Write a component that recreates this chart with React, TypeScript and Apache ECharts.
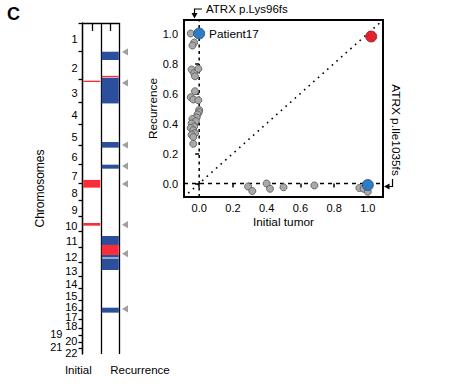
import React, { useEffect, useRef } from "react";
import * as echarts from "echarts";

const FONT = "'Liberation Sans', Arial, Helvetica, sans-serif";

// ---- Chromosome panel data ----
const chromosomes = ["1", "2", "3", "4", "5", "6", "7", "8", "9", "10", "11", "12", "13", "14", "15", "16", "17", "18", "19", "20", "21", "22"];
const chromLengthsMb = [249.3, 243.2, 198.0, 191.2, 180.9, 171.1, 159.1, 146.4, 141.2, 135.5, 135.0, 133.9, 115.2, 107.3, 102.5, 90.4, 81.2, 78.1, 59.1, 63.0, 48.1, 51.3];
const shiftedLabels = ["19", "21"];
const samples = ["Initial", "Recurrence"];
// [sampleIndex, genomeStartMb, genomeEndMb]
const blueSegments = [
  [1, 250, 322],
  [1, 476, 700],
  [1, 1036, 1085],
  [1, 1233, 1268],
  [1, 1854, 1932],
  [1, 2019, 2041],
  [1, 2050, 2150],
  [1, 2478, 2521],
];
const redSegments = [
  [0, 502, 511],
  [0, 1366, 1433],
  [0, 1741, 1764],
  [1, 460, 469],
  [1, 1932, 2019],
];
const flaggedPositionsMb = [252, 522, 1062, 1245, 1401, 1755, 2008, 2489];

// ---- Scatter panel data ----
const otherMutations = [
  [-0.05, 1.0], [-0.03, 0.94], [-0.04, 0.92],
  [-0.045, 0.76], [-0.03, 0.735], [-0.025, 0.715], [-0.005, 0.765],
  [-0.025, 0.615], [-0.05, 0.575], [-0.035, 0.56], [-0.005, 0.555],
  [0.0, 0.49], [-0.002, 0.475], [-0.01, 0.46], [-0.015, 0.44],
  [-0.04, 0.43], [-0.02, 0.415], [-0.045, 0.4], [-0.03, 0.38],
  [-0.05, 0.37], [-0.035, 0.355], [-0.025, 0.335], [-0.045, 0.325],
  [-0.035, 0.31], [-0.035, 0.265],
  [0.29, -0.02], [0.315, -0.05], [0.4, 0.0], [0.42, -0.035], [0.5, -0.025],
  [0.683, -0.013], [0.95, -0.03], [0.975, -0.035], [1.0, -0.055],
];
const patient17Lys96 = [[0.0, 1.0]];
const ile1035 = [[1.0, -0.01]];
const sharedMutation = [[1.02, 0.98]];
const scatterTicks = [0, 0.2, 0.4, 0.6, 0.8, 1.0];

export default function App() {
  const ref = useRef<HTMLDivElement>(null);

  useEffect(() => {
    if (!ref.current) return;
    const chart = echarts.init(ref.current, null, { renderer: "svg" });

    const bounds: number[] = [0];
    chromLengthsMb.forEach((l) => bounds.push(bounds[bounds.length - 1] + l));
    const total = bounds[bounds.length - 1];
    const centers = chromLengthsMb.map((l, i) => bounds[i] + l / 2);

    const segData = [
      ...blueSegments.map((s) => [s[0], s[1], s[2], 0]),
      ...redSegments.map((s) => [s[0], s[1], s[2], 1]),
    ];
    const segColors = ["#2c4f9b", "#fb2c3a"];

    const black = "#000";
    const tickLine = { color: black, width: 1.3 };

    chart.setOption({
      animation: false,
      textStyle: { fontFamily: FONT },
      grid: [
        { left: 82.5, top: 23, width: 37, height: 331, show: false },
        {
          left: 184,
          top: 20,
          width: 199,
          height: 177,
          show: true,
          borderColor: black,
          borderWidth: 2,
          backgroundColor: "transparent",
        },
      ],
      xAxis: [
        {
          gridIndex: 0,
          type: "category",
          data: [
            { value: samples[0], textStyle: { align: "right" } },
            { value: samples[1], textStyle: { align: "left" } },
          ],
          axisLine: { show: true, lineStyle: tickLine },
          axisTick: { show: true, alignWithLabel: true, length: 8, lineStyle: tickLine },
          axisLabel: { color: black, fontSize: 11.5, margin: 10, fontFamily: FONT, interval: 0 },
          splitLine: { show: true, lineStyle: tickLine },
        },
        {
          gridIndex: 1,
          type: "value",
          min: -0.09,
          max: 1.09,
          axisLine: { show: false },
          axisTick: { show: true, customValues: scatterTicks, length: 4, lineStyle: { color: black, width: 1.5 } },
          axisLabel: {
            customValues: scatterTicks,
            formatter: (v: number) => v.toFixed(1),
            color: black,
            fontSize: 11,
            margin: 5,
            fontFamily: FONT,
          },
          splitLine: { show: false },
          name: "Initial tumor",
          nameLocation: "middle",
          nameGap: 19,
          nameTextStyle: { color: black, fontSize: 11.8, fontFamily: FONT },
        },
      ],
      yAxis: [
        {
          gridIndex: 0,
          type: "value",
          inverse: true,
          min: 0,
          max: total,
          axisLine: { show: true, lineStyle: tickLine },
          axisTick: { show: true, customValues: bounds.slice(0, bounds.length - 1), length: 4, lineStyle: tickLine },
          axisLabel: {
            customValues: centers,
            formatter: (v: number) => {
              let idx = 0;
              let best = Infinity;
              centers.forEach((c, i) => {
                const d = Math.abs(c - v);
                if (d < best) {
                  best = d;
                  idx = i;
                }
              });
              const name = chromosomes[idx];
              return shiftedLabels.includes(name) ? `{off|${name}}` : `{n|${name}}`;
            },
            rich: {
              n: { fontSize: 11, color: black, fontFamily: FONT, padding: [4, 0, 0, 0] },
              off: { fontSize: 11, color: black, fontFamily: FONT, padding: [4, 15, 0, 0] },
            },
            margin: 5,
            hideOverlap: false,
          },
          splitLine: { show: false },
          name: "Chromosomes",
          nameLocation: "middle",
          nameRotate: 90,
          nameGap: 17,
          nameTextStyle: { color: black, fontSize: 12, fontFamily: FONT },
        },
        {
          gridIndex: 1,
          type: "value",
          min: -0.09,
          max: 1.09,
          axisLine: { show: false },
          axisTick: { show: true, customValues: scatterTicks, length: 4, lineStyle: { color: black, width: 1.5 } },
          axisLabel: {
            customValues: scatterTicks,
            formatter: (v: number) => v.toFixed(1),
            color: black,
            fontSize: 11,
            margin: 6,
            fontFamily: FONT,
          },
          splitLine: { show: false },
          name: "Recurrence",
          nameLocation: "middle",
          nameRotate: 90,
          nameGap: 25,
          nameTextStyle: { color: black, fontSize: 11.8, fontFamily: FONT },
        },
      ],
      series: [
        {
          type: "custom",
          xAxisIndex: 0,
          yAxisIndex: 0,
          clip: false,
          encode: { x: 0, y: [1, 2] },
          data: segData,
          renderItem: (params: any, api: any) => {
            const c = api.value(0);
            const s = api.value(1);
            const e = api.value(2);
            const col = segColors[api.value(3)];
            const p0 = api.coord([c, s]);
            const p1 = api.coord([c, e]);
            const w = api.size([1, 0])[0];
            return {
              type: "rect",
              shape: { x: p0[0] - w / 2 + 0.7, y: p0[1], width: w - 1.4, height: Math.max(p1[1] - p0[1], 1.3) },
              style: { fill: col },
            };
          },
          z: 3,
        },
        {
          type: "custom",
          xAxisIndex: 0,
          yAxisIndex: 0,
          clip: false,
          encode: { x: 0, y: 1 },
          data: flaggedPositionsMb.map((p) => [1, p]),
          renderItem: (params: any, api: any) => {
            const p = api.coord([api.value(0), api.value(1)]);
            const w = api.size([1, 0])[0];
            const x = p[0] + w / 2 + 2.5;
            const y = p[1];
            return {
              type: "polygon",
              shape: { points: [[x, y], [x + 6, y - 3.6], [x + 6, y + 3.6]] },
              style: { fill: "#a29e9e" },
            };
          },
          z: 3,
        },
        {
          type: "line",
          xAxisIndex: 1,
          yAxisIndex: 1,
          data: [[-0.065, -0.065], [1.08, 1.08]],
          symbol: "none",
          silent: true,
          lineStyle: { color: black, width: 1.6, type: [1.6, 4.6] },
          z: 1,
        },
        {
          type: "line",
          xAxisIndex: 1,
          yAxisIndex: 1,
          data: [[0, -0.09], [0, 1.09]],
          symbol: "none",
          silent: true,
          lineStyle: { color: black, width: 1.5, type: [3, 3.5] },
          z: 1,
        },
        {
          type: "line",
          xAxisIndex: 1,
          yAxisIndex: 1,
          data: [[-0.09, 0], [1.09, 0]],
          symbol: "none",
          silent: true,
          lineStyle: { color: black, width: 1.5, type: [4, 4] },
          z: 1,
        },
        {
          type: "scatter",
          xAxisIndex: 1,
          yAxisIndex: 1,
          data: otherMutations,
          symbolSize: 7,
          itemStyle: { color: "#a9a9a9", borderColor: "#5f5f5f", borderWidth: 0.9, opacity: 1 },
          z: 4,
        },
        {
          type: "scatter",
          xAxisIndex: 1,
          yAxisIndex: 1,
          data: patient17Lys96,
          symbolSize: 11,
          itemStyle: { color: "#2f7cc4", borderColor: "#1c4d84", borderWidth: 0.8, opacity: 1 },
          label: {
            show: true,
            position: "right",
            distance: 4,
            formatter: "Patient17",
            color: black,
            fontSize: 11.8,
            fontFamily: FONT,
          },
          z: 5,
        },
        {
          type: "scatter",
          xAxisIndex: 1,
          yAxisIndex: 1,
          data: ile1035,
          symbolSize: 11,
          itemStyle: { color: "#2f7cc4", borderColor: "#1c4d84", borderWidth: 0.8, opacity: 1 },
          z: 5,
        },
        {
          type: "scatter",
          xAxisIndex: 1,
          yAxisIndex: 1,
          data: sharedMutation,
          symbolSize: 11,
          itemStyle: { color: "#e3222c", borderColor: "#8c1a1e", borderWidth: 0.8, opacity: 1 },
          z: 5,
        },
      ],
      graphic: [
        {
          type: "text",
          left: 7,
          top: 5,
          style: { text: "C", fontSize: 18, fontWeight: "bold", fontFamily: FONT, fill: black },
        },
        {
          type: "text",
          x: 206,
          y: 8.5,
          style: { text: "ATRX p.Lys96fs", fontSize: 11.5, fontFamily: FONT, fill: black, verticalAlign: "middle", align: "left" },
        },
        {
          type: "polyline",
          shape: { points: [[202, 9], [194.5, 9], [194.5, 14]] },
          style: { stroke: black, lineWidth: 1.2, fill: "none" },
        },
        {
          type: "polygon",
          shape: { points: [[191.5, 13], [197.5, 13], [194.5, 18.5]] },
          style: { fill: black },
        },
        {
          type: "text",
          x: 396,
          y: 130,
          rotation: -Math.PI / 2,
          style: { text: "ATRX p.Ile1035fs", fontSize: 11.8, fontFamily: FONT, fill: black, verticalAlign: "middle", align: "center" },
        },
        {
          type: "polyline",
          shape: { points: [[392.5, 179], [392.5, 186.5], [388, 186.5]] },
          style: { stroke: black, lineWidth: 1.2, fill: "none" },
        },
        {
          type: "polygon",
          shape: { points: [[384, 186.5], [389.5, 183.5], [389.5, 189.5]] },
          style: { fill: black },
        },
      ],
    });

    return () => chart.dispose();
  }, []);

  return (
    <div
      ref={ref}
      style={{ position: "absolute", left: 0, top: 0, width: 450, height: 387, background: "#fff" }}
    />
  );
}
